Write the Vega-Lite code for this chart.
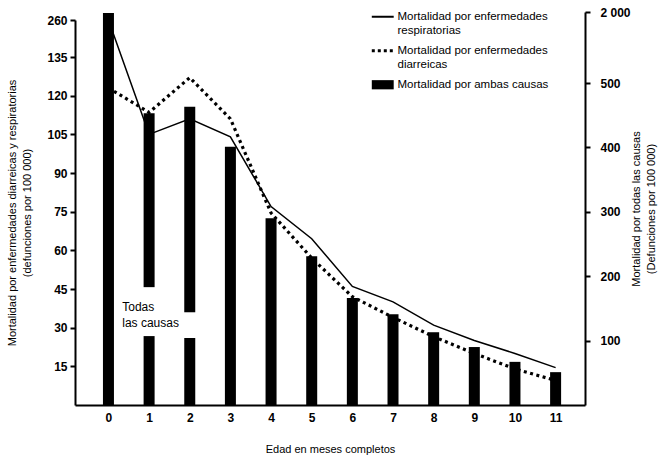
{
  "$schema": "https://vega.github.io/schema/vega-lite/v6.json",
  "width": 510,
  "height": 395,
  "autosize": {"type": "none"},
  "padding": {"left": 75, "top": 10, "right": 80, "bottom": 53},
  "background": "white",
  "config": {
    "view": {"stroke": null},
    "font": "Liberation Sans",
    "axis": {
      "grid": false,
      "domainColor": "black",
      "domainWidth": 2,
      "tickColor": "black",
      "tickWidth": 2,
      "labelColor": "black",
      "titleColor": "black",
      "labelFont": "Liberation Sans",
      "titleFont": "Liberation Sans",
      "titleFontWeight": "normal",
      "labelFontWeight": "bold",
      "labelFontSize": 12,
      "titleFontSize": 11,
      "titleLineHeight": 15
    },
    "legend": {"labelFont": "Liberation Sans", "labelColor": "black"}
  },
  "datasets": {
    "barras": [
      {"mes": 0, "total": 1980, "serie": "Mortalidad por ambas causas"},
      {"mes": 1, "total": 453, "serie": "Mortalidad por ambas causas"},
      {"mes": 2, "total": 463, "serie": "Mortalidad por ambas causas"},
      {"mes": 3, "total": 401, "serie": "Mortalidad por ambas causas"},
      {"mes": 4, "total": 290, "serie": "Mortalidad por ambas causas"},
      {"mes": 5, "total": 231, "serie": "Mortalidad por ambas causas"},
      {"mes": 6, "total": 166, "serie": "Mortalidad por ambas causas"},
      {"mes": 7, "total": 141, "serie": "Mortalidad por ambas causas"},
      {"mes": 8, "total": 113, "serie": "Mortalidad por ambas causas"},
      {"mes": 9, "total": 90, "serie": "Mortalidad por ambas causas"},
      {"mes": 10, "total": 67, "serie": "Mortalidad por ambas causas"},
      {"mes": 11, "total": 51, "serie": "Mortalidad por ambas causas"}
    ],
    "huecos": [
      {"mes": 1, "desde": 107, "hasta": 183},
      {"mes": 2, "desde": 104, "hasta": 144}
    ],
    "lineas": [
      {"mes": 0, "valor": 260, "serie": "Mortalidad por enfermedades respiratorias"},
      {"mes": 1, "valor": 105, "serie": "Mortalidad por enfermedades respiratorias"},
      {"mes": 2, "valor": 111, "serie": "Mortalidad por enfermedades respiratorias"},
      {"mes": 3, "valor": 104, "serie": "Mortalidad por enfermedades respiratorias"},
      {"mes": 4, "valor": 77, "serie": "Mortalidad por enfermedades respiratorias"},
      {"mes": 5, "valor": 64.5, "serie": "Mortalidad por enfermedades respiratorias"},
      {"mes": 6, "valor": 46, "serie": "Mortalidad por enfermedades respiratorias"},
      {"mes": 7, "valor": 40, "serie": "Mortalidad por enfermedades respiratorias"},
      {"mes": 8, "valor": 31, "serie": "Mortalidad por enfermedades respiratorias"},
      {"mes": 9, "valor": 25, "serie": "Mortalidad por enfermedades respiratorias"},
      {"mes": 10, "valor": 20, "serie": "Mortalidad por enfermedades respiratorias"},
      {"mes": 11, "valor": 14.5, "serie": "Mortalidad por enfermedades respiratorias"},
      {"mes": 0, "valor": 123, "serie": "Mortalidad por enfermedades diarreicas"},
      {"mes": 1, "valor": 113.5, "serie": "Mortalidad por enfermedades diarreicas"},
      {"mes": 2, "valor": 127, "serie": "Mortalidad por enfermedades diarreicas"},
      {"mes": 3, "valor": 111, "serie": "Mortalidad por enfermedades diarreicas"},
      {"mes": 4, "valor": 74.5, "serie": "Mortalidad por enfermedades diarreicas"},
      {"mes": 5, "valor": 57, "serie": "Mortalidad por enfermedades diarreicas"},
      {"mes": 6, "valor": 42, "serie": "Mortalidad por enfermedades diarreicas"},
      {"mes": 7, "valor": 34, "serie": "Mortalidad por enfermedades diarreicas"},
      {"mes": 8, "valor": 26.5, "serie": "Mortalidad por enfermedades diarreicas"},
      {"mes": 9, "valor": 20, "serie": "Mortalidad por enfermedades diarreicas"},
      {"mes": 10, "valor": 14, "serie": "Mortalidad por enfermedades diarreicas"},
      {"mes": 11, "valor": 9.5, "serie": "Mortalidad por enfermedades diarreicas"}
    ],
    "nota": [
      {"mes": 0.34, "valor": 40, "texto": "Todas\nlas causas"}
    ]
  },
  "resolve": {"scale": {"y": "independent"}},
  "layer": [
    {
      "layer": [
        {
          "data": {"name": "barras"},
          "mark": {"type": "bar", "width": 11, "color": "black"},
          "encoding": {
            "x": {
              "field": "mes", "type": "quantitative",
              "scale": {"domain": [-0.7, 11.6], "nice": false, "zero": false},
              "axis": {"values": [0,1,2,3,4,5,6,7,8,9,10,11], "ticks": false, "labelPadding": 7, "title": "Edad en meses completos", "titlePadding": 20, "labelFontSize": 12}
            },
            "y": {
              "field": "total", "type": "quantitative",
              "scale": {"domain": [0, 500, 2000], "range": [395, 73, 2], "zero": false, "nice": false},
              "axis": {
                "orient": "right",
                "values": [100, 200, 300, 400, 500, 2000],
                "labelExpr": "datum.value == 2000 ? '2 000' : datum.label",
                "tickSize": 5,
                "labelPadding": 10,
                "title": ["Mortalidad por todas las causas", "(Defunciones por 100 000)"],
                "titleAngle": 270,
                "titlePadding": -4
              }
            },
            "color": {
              "field": "serie", "type": "nominal",
              "scale": {
                "domain": ["Mortalidad por enfermedades respiratorias", "Mortalidad por enfermedades diarreicas", "Mortalidad por ambas causas"],
                "range": ["black", "black", "black"]
              },
              "legend": {
                "orient": "none",
                "legendX": 302,
                "legendY": 1,
                "title": null,
                "labelFontSize": 11.5,
                "labelLimit": 300,
                "symbolSize": 480,
                "rowPadding": 7,
                "labelOffset": 9,
                "labelExpr": "datum.label == 'Mortalidad por enfermedades respiratorias' ? ['Mortalidad por enfermedades', 'respiratorias'] : (datum.label == 'Mortalidad por enfermedades diarreicas' ? ['Mortalidad por enfermedades', 'diarreicas'] : datum.label)",
                "encode": {
                  "labels": {"update": {"lineHeight": {"value": 14}}},
                  "symbols": {
                    "update": {
                      "shape": {"signal": "datum.value == 'Mortalidad por ambas causas' ? 'M-1,-0.42H1V0.42H-1Z' : 'stroke'"},
                      "strokeDash": {"signal": "datum.value == 'Mortalidad por enfermedades diarreicas' ? [3, 3] : [1, 0]"},
                      "strokeWidth": {"signal": "datum.value == 'Mortalidad por enfermedades diarreicas' ? 3 : (datum.value == 'Mortalidad por ambas causas' ? 0 : 2)"},
                      "fill": {"value": "black"},
                      "stroke": {"value": "black"},
                      "opacity": {"value": 1}
                    }
                  }
                }
              }
            }
          }
        },
        {
          "data": {"name": "huecos"},
          "mark": {"type": "bar", "width": 13, "color": "white"},
          "encoding": {
            "x": {"field": "mes", "type": "quantitative"},
            "y": {"field": "desde", "type": "quantitative"},
            "y2": {"field": "hasta"}
          }
        }
      ]
    },
    {
      "layer": [
        {
          "data": {"name": "lineas"},
          "transform": [{"filter": "datum.serie == 'Mortalidad por enfermedades respiratorias'"}],
          "mark": {"type": "line", "color": "black", "strokeWidth": 1.5},
          "encoding": {
            "x": {"field": "mes", "type": "quantitative"},
            "y": {
              "field": "valor", "type": "quantitative",
              "scale": {"domain": [0, 135, 260], "range": [395, 47, 10], "zero": false, "nice": false},
              "axis": {
                "orient": "left",
                "values": [15, 30, 45, 60, 75, 90, 105, 120, 135, 260],
                "tickSize": 5,
                "labelPadding": 3,
                "title": ["Mortalidad por enfermedades diarreicas y respiratorias", "(defunciones por 100 000)"],
                "titlePadding": 14
              }
            },
            "color": {"field": "serie", "type": "nominal"}
          }
        },
        {
          "data": {"name": "lineas"},
          "transform": [{"filter": "datum.serie == 'Mortalidad por enfermedades diarreicas'"}],
          "mark": {"type": "line", "color": "black", "strokeWidth": 3.2, "strokeDash": [3, 3.5]},
          "encoding": {
            "x": {"field": "mes", "type": "quantitative"},
            "y": {"field": "valor", "type": "quantitative"},
            "color": {"field": "serie", "type": "nominal"}
          }
        },
        {
          "data": {"name": "nota"},
          "mark": {"type": "text", "align": "left", "baseline": "top", "lineBreak": "\n", "fontSize": 12, "lineHeight": 16, "color": "black", "font": "Liberation Sans"},
          "encoding": {
            "x": {"field": "mes", "type": "quantitative"},
            "y": {"field": "valor", "type": "quantitative"},
            "text": {"field": "texto"}
          }
        }
      ]
    }
  ]
}
